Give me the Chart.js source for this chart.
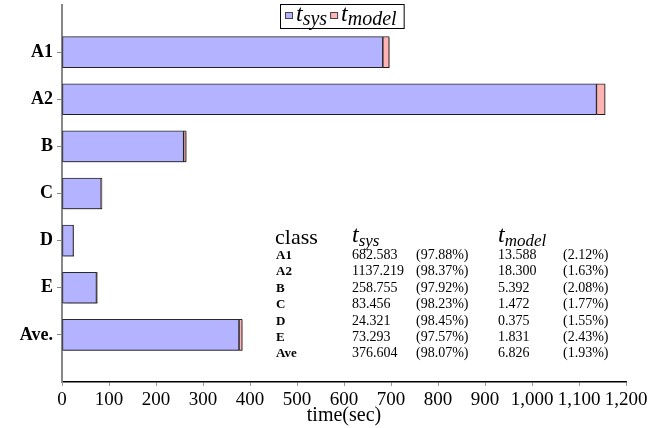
<!DOCTYPE html>
<html>
<head>
<meta charset="utf-8">
<script src="https://cdn.jsdelivr.net/npm/chart.js@4/dist/chart.umd.min.js"></script>
<style>
  html, body { margin: 0; padding: 0; background: #fff; }
  #wrap { width: 667px; height: 428px; }
</style>
</head>
<body>
<div id="wrap"><canvas id="c" width="667" height="428"></canvas></div>
<script>
// Per-class run time, split into system time and model time (seconds)
const classes    = ['A1', 'A2', 'B', 'C', 'D', 'E', 'Ave.'];
const tableNames = ['A1', 'A2', 'B', 'C', 'D', 'E', 'Ave'];
const sysTimes   = [682.583, 1137.219, 258.755, 83.456, 24.321, 73.293, 376.604];
const modelTimes = [13.588, 18.300, 5.392, 1.472, 0.375, 1.831, 6.826];
const sysShare   = ['97.88%', '98.37%', '97.92%', '98.23%', '98.45%', '97.57%', '98.07%'];
const modelShare = ['2.12%', '1.63%', '2.08%', '1.77%', '1.55%', '2.43%', '1.93%'];
const xTicks     = [0, 100, 200, 300, 400, 500, 600, 700, 800, 900, 1000, 1100, 1200];

const SERIF = '"Liberation Serif", "DejaVu Serif", serif';

// Empty slots at both ends keep half a row of space above and below the bars
const labels = ['', ...classes, ''];
const pad = arr => [null, ...arr, null];

// Soft drop shadow under the bars
const barShadow = {
  id: 'barShadow',
  beforeDatasetsDraw(chart) {
    const ctx = chart.ctx;
    ctx.save();
    ctx.shadowColor = 'rgba(0,0,0,0.35)';
    ctx.shadowOffsetX = 1;
    ctx.shadowOffsetY = 1;
    ctx.shadowBlur = 1;
  },
  afterDatasetsDraw(chart) {
    chart.ctx.restore();
  }
};

// Legend with subscripted t, drawn inside the plot area
const subLegend = {
  id: 'subLegend',
  afterDraw(chart) {
    const ctx = chart.ctx;
    const x0 = 280, y0 = 4, h = 24;
    const items = chart.data.datasets.map(d => ({ color: d.backgroundColor, sub: d.label }));
    ctx.save();
    // measure first so the frame fits its content
    let x = x0 + 5;
    const parts = items.map(it => {
      const p = { sq: x };
      x += 11;
      p.t = x;
      ctx.font = 'italic 24px ' + SERIF;
      x += ctx.measureText('t').width;
      p.sub = x;
      ctx.font = 'italic 20px ' + SERIF;
      x += ctx.measureText(it.sub).width + 3;
      return p;
    });
    const w = x - x0 + 4;
    ctx.fillStyle = '#fff';
    ctx.fillRect(x0, y0, w, h);
    ctx.strokeStyle = '#000';
    ctx.lineWidth = 1;
    ctx.strokeRect(x0 + 0.5, y0 + 0.5, w, h);
    items.forEach((it, i) => {
      const p = parts[i];
      ctx.fillStyle = it.color;
      ctx.fillRect(p.sq, y0 + 8, 8, 7);
      ctx.strokeStyle = '#444';
      ctx.strokeRect(p.sq + 0.5, y0 + 8.5, 7, 6);
      ctx.fillStyle = '#000';
      ctx.textBaseline = 'alphabetic';
      ctx.font = 'italic 24px ' + SERIF;
      ctx.fillText('t', p.t, y0 + 17);
      ctx.font = 'italic 20px ' + SERIF;
      ctx.fillText(it.sub, p.sub, y0 + 21);
    });
    ctx.restore();
  }
};

// Summary table of absolute times and shares
const summaryTable = {
  id: 'summaryTable',
  afterDraw(chart) {
    const ctx = chart.ctx;
    ctx.save();
    ctx.fillStyle = '#000';
    ctx.textBaseline = 'alphabetic';
    const cols = { name: 276, sys: 352, sysPct: 416, model: 498, modelPct: 563 };
    // header row
    ctx.font = '22px ' + SERIF;
    ctx.fillText('class', 275, 244);
    ctx.font = 'italic 24px ' + SERIF;
    ctx.fillText('t', cols.sys, 242);
    let w = ctx.measureText('t').width;
    ctx.font = 'italic 17px ' + SERIF;
    ctx.fillText('sys', cols.sys + w, 246);
    ctx.font = 'italic 24px ' + SERIF;
    ctx.fillText('t', cols.model, 242);
    w = ctx.measureText('t').width;
    ctx.font = 'italic 17px ' + SERIF;
    ctx.fillText('model', cols.model + w, 246);
    // data rows
    const top = 259, step = 16.4;
    tableNames.forEach((n, i) => {
      const y = top + i * step;
      ctx.font = 'bold 13px ' + SERIF;
      ctx.fillText(n, cols.name, y);
      ctx.font = '14px ' + SERIF;
      ctx.fillText(sysTimes[i].toFixed(3), cols.sys, y);
      ctx.fillText('(' + sysShare[i] + ')', cols.sysPct, y);
      ctx.fillText(modelTimes[i].toFixed(3), cols.model, y);
      ctx.fillText('(' + modelShare[i] + ')', cols.modelPct, y);
    });
    ctx.restore();
  }
};

new Chart(document.getElementById('c'), {
  type: 'bar',
  data: {
    labels: labels,
    datasets: [
      {
        label: 'sys',
        data: pad(sysTimes),
        backgroundColor: '#b3b3ff',
        borderColor: '#2a2a2a',
        borderWidth: 1,
        borderSkipped: false,
        barThickness: 31
      },
      {
        label: 'model',
        data: pad(modelTimes),
        backgroundColor: '#ffb3b3',
        borderColor: '#2a2a2a',
        borderWidth: 1,
        borderSkipped: false,
        barThickness: 31
      }
    ]
  },
  options: {
    indexAxis: 'y',
    responsive: false,
    animation: false,
    layout: { padding: { top: 5, right: 41, left: 0, bottom: 0 } },
    plugins: {
      legend: { display: false },
      tooltip: { enabled: false }
    },
    scales: {
      x: {
        stacked: true,
        min: 0,
        max: 1200,
        afterBuildTicks(scale) { scale.ticks = xTicks.map(v => ({ value: v })); },
        ticks: {
          color: '#000',
          font: { family: SERIF, size: 19 },
          padding: 3,
          maxRotation: 0,
          autoSkip: false
        },
        grid: {
          drawOnChartArea: false,
          drawTicks: true,
          tickLength: 4,
          tickColor: '#999'
        },
        border: { color: '#000', width: 1.5 },
        title: {
          display: true,
          text: 'time(sec)',
          color: '#000',
          font: { family: SERIF, size: 20 },
          padding: { top: -9, bottom: 0 }
        },
        afterFit(scale) { scale.height = 46; }
      },
      y: {
        stacked: true,
        offset: false,
        ticks: {
          color: '#000',
          font: { family: SERIF, size: 18, weight: 'bold' },
          padding: 4,
          autoSkip: false
        },
        grid: {
          offset: false,
          drawOnChartArea: false,
          drawTicks: true,
          tickLength: 5,
          tickWidth: 1,
          tickColor: ctx => (ctx.index === 0 || ctx.index === labels.length - 1) ? 'rgba(0,0,0,0)' : '#888'
        },
        border: { color: '#888', width: 2 },
        afterFit(scale) {
          scale.width = 62;
          scale.paddingTop = 0;
          scale.paddingBottom = 0;
        }
      }
    }
  },
  plugins: [barShadow, subLegend, summaryTable]
});
</script>
</body>
</html>
